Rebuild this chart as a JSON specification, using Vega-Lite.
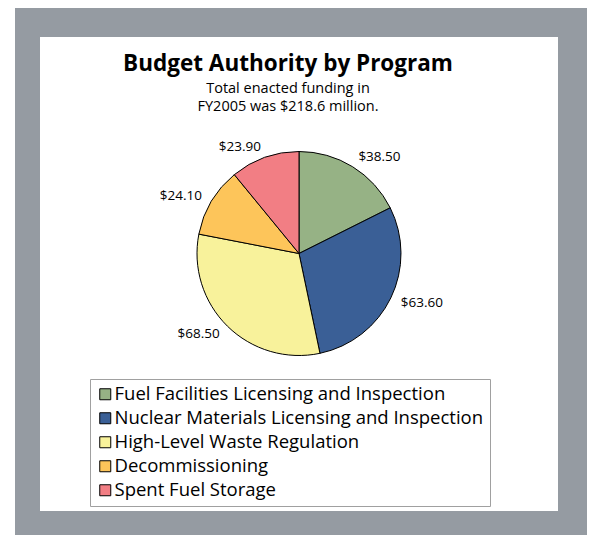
{
  "$schema": "https://vega.github.io/schema/vega-lite/v6.json",
  "background": "white",
  "padding": {"left": 15, "top": 8, "right": 3, "bottom": 0},
  "spacing": 0,
  "config": {
    "view": {"fill": "white", "stroke": null},
    "style": {"cell": {"fill": "white", "stroke": null}},
    "font": "Open Sans"
  },
  "resolve": {"scale": {"color": "shared"}, "legend": {"color": "shared"}},
  "datasets": {
    "budget": [
      {"Program": "Fuel Facilities Licensing and Inspection", "Amount": 38.5, "Rank": 1},
      {"Program": "Nuclear Materials Licensing and Inspection", "Amount": 63.6, "Rank": 2},
      {"Program": "High-Level Waste Regulation", "Amount": 68.5, "Rank": 3},
      {"Program": "Decommissioning", "Amount": 24.1, "Rank": 4},
      {"Program": "Spent Fuel Storage", "Amount": 23.9, "Rank": 5}
    ]
  },
  "vconcat": [
    {
      "width": 572,
      "height": 29,
      "view": {"fill": "#959ba2", "stroke": null},
      "data": {"values": [{}]},
      "mark": {"type": "point", "opacity": 0}
    },
    {
      "spacing": 0,
      "hconcat": [
        {
          "width": 25,
          "height": 474,
          "view": {"fill": "#959ba2", "stroke": null},
          "data": {"values": [{}]},
          "mark": {"type": "point", "opacity": 0}
        },
        {
          "spacing": 0,
          "vconcat": [
            {
              "width": 518,
              "height": 433,
              "view": {"fill": "white", "stroke": null},
              "data": {"name": "budget"},
              "title": {
                "text": "Budget Authority by Program",
                "subtitle": ["Total enacted funding in", "FY2005 was $218.6 million."],
                "font": "Open Sans",
                "fontSize": 22.5,
                "fontWeight": "bold",
                "color": "black",
                "subtitleFont": "Open Sans",
                "subtitleFontSize": 14.5,
                "subtitleColor": "black",
                "subtitleLineHeight": 17.5,
                "subtitlePadding": 7,
                "anchor": "middle",
                "frame": "group",
                "dx": -11,
                "offset": -76
              },
              "layer": [
                {
                  "mark": {"type": "arc", "outerRadius": 102, "stroke": "black", "strokeWidth": 1},
                  "encoding": {
                    "theta": {"field": "Amount", "type": "quantitative", "stack": true},
                    "order": {"field": "Rank", "type": "quantitative"},
                    "color": {
                      "field": "Program",
                      "type": "nominal",
                      "sort": null,
                      "scale": {
                        "domain": [
                          "Fuel Facilities Licensing and Inspection",
                          "Nuclear Materials Licensing and Inspection",
                          "High-Level Waste Regulation",
                          "Decommissioning",
                          "Spent Fuel Storage"
                        ],
                        "range": ["#96b285", "#3a5f96", "#f8f29b", "#fdc55a", "#f27e84"]
                      },
                      "legend": {
                        "title": null,
                        "orient": "none",
                        "legendX": 75,
                        "legendY": 371,
                        "direction": "vertical",
                        "fillColor": "white",
                        "strokeColor": "#a0a0a0",
                        "padding": 6,
                        "labelFont": "Open Sans",
                        "labelFontSize": 18.5,
                        "labelColor": "black",
                        "labelLimit": 600,
                        "labelOffset": 0,
                        "symbolType": "square",
                        "symbolSize": 121,
                        "symbolStrokeColor": "black",
                        "symbolStrokeWidth": 1,
                        "symbolOpacity": 1,
                        "rowPadding": 5
                      }
                    }
                  }
                },
                {
                  "mark": {
                    "type": "text",
                    "radius": 113,
                    "font": "Open Sans",
                    "fontSize": 13.5,
                    "color": "black",
                    "align": {"expr": "datum.Amount_end < 110 ? 'left' : 'right'"}
                  },
                  "encoding": {
                    "theta": {"field": "Amount", "type": "quantitative", "stack": true},
                    "order": {"field": "Rank", "type": "quantitative"},
                    "detail": {"field": "Program", "type": "nominal"},
                    "text": {"field": "Amount", "type": "quantitative", "format": "$.2f"}
                  }
                }
              ]
            },
            {
              "width": 518,
              "height": 41,
              "view": {"fill": "white", "stroke": null},
              "data": {"values": [{}]},
              "mark": {"type": "point", "opacity": 0}
            }
          ]
        },
        {
          "width": 29,
          "height": 474,
          "view": {"fill": "#959ba2", "stroke": null},
          "data": {"values": [{}]},
          "mark": {"type": "point", "opacity": 0}
        }
      ]
    },
    {
      "width": 572,
      "height": 24,
      "view": {"fill": "#959ba2", "stroke": null},
      "data": {"values": [{}]},
      "mark": {"type": "point", "opacity": 0}
    }
  ]
}
